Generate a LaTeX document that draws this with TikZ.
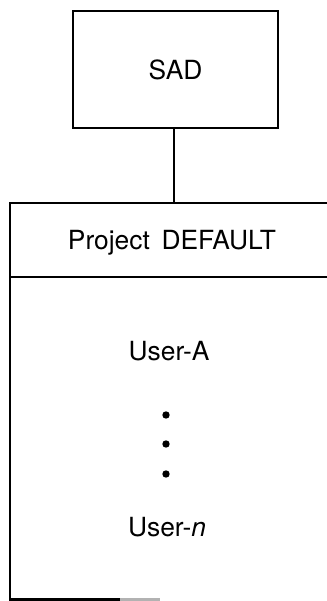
\documentclass[tikz,border=0pt]{standalone}
\usepackage{fontspec}
\setmainfont{TeX Gyre Heros}
\usepackage{tikz}

\begin{document}
\begin{tikzpicture}[x=0.02cm, y=-0.02cm,
  box/.style={draw, line width=1.3pt, minimum width=4.1cm,
              minimum height=2.34cm, align=center, inner sep=3pt},
  label/.style={font=\fontsize{15}{18}\selectfont, inner sep=0pt},
  edge/.style={line width=1.3pt},
  dot/.style={circle, fill, inner sep=0pt, minimum size=4.2pt}
]
  \useasboundingbox (0,0) rectangle (326,601);
  \node[box, label] (sad) at (175.5,69.5) {SAD};
  \coordinate (tl) at (10,203);
  \coordinate (tr) at (328,203);
  \coordinate (ml) at (10,277);
  \coordinate (mr) at (328,277);
  \coordinate (bl) at (10,599.5);
  \coordinate (join) at (174,203);
  \node[label] (proj) at (172,243) {Project\, DEFAULT};
  \node[label] (usera) at (169,351) {User-A};
  \node[dot] (d1) at (166,415) {};
  \node[dot] (d2) at (166,444) {};
  \node[dot] (d3) at (166,474) {};
  \node[label] (usern) at (167,527) {User-\emph{n}};
  % the project box, open on the right
  \draw[edge] (tr) -- (tl) -- (bl) -- ++(110,0);
  \draw[edge, black!30] (bl) ++(110,0) -- ++(40,0);
  \draw[edge] (ml) -- (mr);
  \draw[edge] (sad.south -| join) -- (join);
\end{tikzpicture}
\end{document}
